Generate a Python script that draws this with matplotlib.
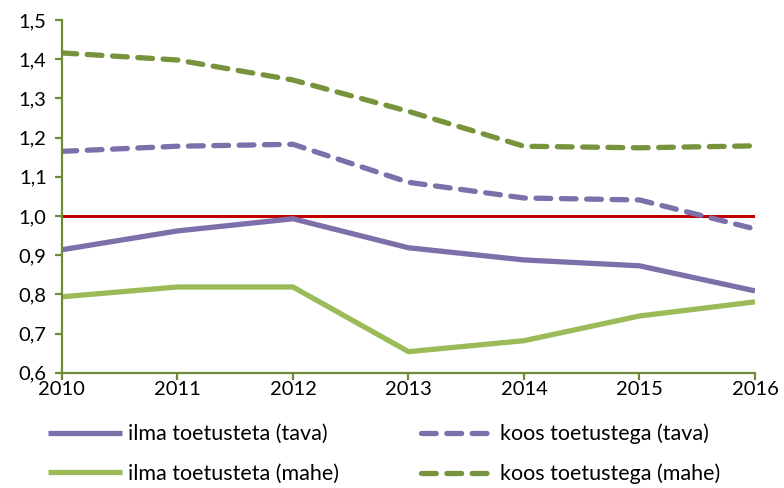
import numpy as np
import matplotlib.pyplot as plt

plt.rcParams['font.family'] = ['Lato', 'DejaVu Sans']

years = [2010, 2011, 2012, 2013, 2014, 2015, 2016]
ilma_tava = [0.914, 0.962, 0.993, 0.919, 0.888, 0.873, 0.809]
koos_tava = [1.165, 1.178, 1.183, 1.086, 1.046, 1.041, 0.967]
ilma_mahe = [0.794, 0.819, 0.819, 0.654, 0.682, 0.745, 0.781]
koos_mahe = [1.416, 1.398, 1.347, 1.267, 1.178, 1.174, 1.179]
labels = ['ilma toetusteta (tava)', 'koos toetustega (tava)',
          'ilma toetusteta (mahe)', 'koos toetustega (mahe)']
ytick_labels = ['0,6', '0,7', '0,8', '0,9', '1,0', '1,1', '1,2', '1,3', '1,4', '1,5']

purple = '#7D6FAA'
green = '#9BBB59'
olive = '#77933C'
axis_col = '#6E8A3A'

fig = plt.figure(figsize=(7.84, 4.88), dpi=100)
ax = fig.add_axes([0.079, 0.236, 0.884, 0.723])

ax.plot(years, [1.0] * len(years), color='#C00000', lw=2.2, zorder=1)
l1, = ax.plot(years, ilma_tava, color=purple, lw=3.8, solid_capstyle='butt')
l2, = ax.plot(years, koos_tava, color=purple, lw=3.8, dashes=(2.8, 2.0),
              dash_capstyle='round')
l3, = ax.plot(years, ilma_mahe, color=green, lw=3.8, solid_capstyle='butt')
l4, = ax.plot(years, koos_mahe, color=olive, lw=3.8, dashes=(2.8, 2.0),
              dash_capstyle='round')

ax.set_xlim(2010, 2016)
ax.set_ylim(0.6, 1.5)
ax.set_xticks(years)
ax.set_yticks(np.arange(0.6, 1.51, 0.1))
ax.set_yticklabels(ytick_labels)

for s in ['top', 'right']:
    ax.spines[s].set_visible(False)
for s in ['left', 'bottom']:
    ax.spines[s].set_color(axis_col)
    ax.spines[s].set_linewidth(1.6)
ax.tick_params(axis='both', colors=axis_col, width=1.6, length=5,
               labelsize=14.5, labelcolor='#000000', direction='out')
ax.tick_params(axis='y', pad=6)
ax.tick_params(axis='x', pad=1)
for lab in ax.get_xticklabels():
    lab.set_clip_on(False)

# legend fills column-wise, so order handles for row layout
fig.legend([l1, l3, l2, l4], [labels[0], labels[2], labels[1], labels[3]],
           ncol=2, loc='lower left', bbox_to_anchor=(0.037, -0.032),
           frameon=False, fontsize=15.5, handlelength=3.4, handletextpad=0.3,
           columnspacing=3.8, labelspacing=0.9)

fig.savefig('out.png', dpi=100)
